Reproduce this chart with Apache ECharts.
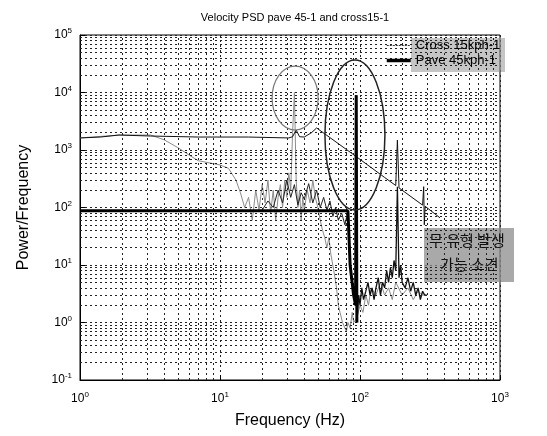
<!DOCTYPE html>
<html><head><meta charset="utf-8">
<script src="https://cdn.jsdelivr.net/npm/echarts/dist/echarts.min.js"></script>
<style>html,body{margin:0;padding:0;background:#fff}#c{width:547px;height:436px}</style>
</head><body><div id="c"></div>
<script>
// ---- tick values ----
const xMajorTicks = [1, 10, 100, 1000];
const yMajorTicks = [0.1, 1, 10, 100, 1000, 10000, 100000];
const xMinorTicks = [2,3,4,5,6,7,8,9,20,30,40,50,60,70,80,90,200,300,400,500,600,700,800,900];
const yMinorTicks = [0.2,0.3,0.4,0.5,0.6,0.7,0.8,0.9,2,3,4,5,6,7,8,9,20,30,40,50,60,70,80,90,
  200,300,400,500,600,700,800,900,2000,3000,4000,5000,6000,7000,8000,9000,
  20000,30000,40000,50000,60000,70000,80000,90000];

// ---- series data (Hz, power/frequency) ----
const crossUpperF = [1, 1.4, 1.9, 3.2, 7, 16, 31, 33, 35, 37, 40, 45, 49, 93, 150, 180, 185, 190, 280, 285, 288, 292, 373];
const crossUpperV = [1620, 1680, 1820, 1750, 1680, 1680, 1620, 1700, 2230, 1700, 1680, 2000, 2415, 782, 333, 241, 1490, 219, 110, 230, 50, 105, 66];

const crossGrayF = [1, 1.9, 3.2, 4, 5, 6.1, 7, 10, 11.5, 13, 14, 15, 16, 17, 18, 19, 20, 21, 22, 23, 24, 25, 26, 27, 28, 29, 30, 31, 32, 33, 34, 35, 36, 37, 38, 39, 40, 42, 44, 46, 48, 50, 52, 54, 56, 58, 60, 62, 65, 68, 70, 72, 75, 78, 80, 82, 85, 88, 90, 95, 100, 105, 110, 115, 120, 130, 140, 150, 160, 170, 180, 200, 220, 240, 260, 280, 300];
const crossGrayV = [1620, 1820, 1820, 1500, 1100, 800, 650, 550, 480, 300, 180, 100, 150, 60, 200, 90, 250, 120, 300, 80, 200, 60, 150, 250, 100, 300, 150, 400, 200, 2000, 10000, 300, 100, 200, 60, 150, 90, 200, 120, 300, 150, 100, 60, 40, 30, 20, 30, 15, 8, 4, 2, 1.5, 1, 0.8, 0.7, 1, 0.8, 1.5, 1, 1.2, 2, 1.5, 3, 2, 4, 3, 5, 3, 4, 2.5, 5, 3, 4, 2.5, 3.5, 3, 3];

const paveF = [1, 2, 5, 10, 20, 40, 60, 82, 85, 90, 93, 94, 95];
const paveV = [88, 88, 88, 88, 88, 88, 88, 88, 10, 3, 2, 9000, 1];

const paveJagF = [20, 22, 24, 26, 28, 30, 32, 34, 36, 38, 40, 43, 46, 49, 52, 55, 58, 61, 64, 67, 70, 74, 78, 82];
const paveJagV = [90, 130, 100, 200, 120, 300, 150, 250, 110, 180, 140, 260, 120, 200, 100, 150, 90, 130, 70, 100, 60, 80, 50, 88];

const paveHighF = [95, 98, 100, 103, 106, 110, 114, 118, 122, 126, 130, 135, 140, 145, 150, 155, 160, 165, 170, 175, 180, 185, 190, 195, 200, 210, 220, 230, 240, 250, 260, 270, 280, 290, 300];
const paveHighV = [1, 3, 2, 4, 2.5, 3.5, 5, 3, 4, 2.5, 4, 6, 3, 5, 4, 8, 5, 9, 6, 12, 8, 230, 6, 10, 5, 4, 6, 3.5, 5, 3, 4, 2.5, 3.5, 3, 3];

// annotation anchors (data coords)
const smallEllipseCenter = [34.4, 8000];
const bigEllipseCenter = [92, 1820];

const zip = (a, b) => a.map((v, i) => [v, b[i]]);
const FONT = 'Liberation Sans, Arial, sans-serif';

const chart = echarts.init(document.getElementById('c'), null, {renderer: 'canvas'});
const labelFmt = v => '{b|10}{s|' + Math.round(Math.log10(v)) + '}';
const labelRich = {
  b: {fontSize: 12, fontFamily: FONT, color: '#000', lineHeight: 16},
  s: {fontSize: 8, fontFamily: FONT, color: '#000', verticalAlign: 'top', lineHeight: 10}
};
const gridDash = {color: '#222', type: [2, 3], width: 1};

const axisCommon = {
  type: 'log', logBase: 10,
  axisLine: {show: true, lineStyle: {color: '#000', width: 1}},
  axisTick: {show: true, inside: true, length: 5, lineStyle: {color: '#000'}},
  splitLine: {show: true, lineStyle: gridDash},
  minorTick: {show: false},
  axisLabel: {formatter: labelFmt, rich: labelRich, color: '#000'},
  nameTextStyle: {fontFamily: FONT, fontSize: 16, color: '#000'}
};

chart.setOption({
  animation: false,
  backgroundColor: '#fff',
  title: {
    text: 'Velocity PSD pave 45-1 and cross15-1',
    left: 290, top: 7, textAlign: 'center',
    textStyle: {fontFamily: FONT, fontSize: 11, fontWeight: 'normal', color: '#000'}
  },
  grid: {left: 80, right: 47, top: 35, bottom: 56, show: true, borderColor: '#000', borderWidth: 1, backgroundColor: 'transparent'},
  legend: {
    data: [
      {name: 'Cross 15kph-1', lineStyle: {width: 1, color: '#333', type: [2, 1]}},
      {name: 'Pave 45kph-1', lineStyle: {width: 3.5, color: '#000'}}
    ],
    orient: 'vertical', left: 385, top: 39, itemGap: 2, itemWidth: 24, itemHeight: 14,
    padding: 0, z: 10,
    itemStyle: {opacity: 0},
    textStyle: {fontFamily: FONT, fontSize: 13, color: '#000'}
  },
  xAxis: Object.assign({}, axisCommon, {
    min: 1, max: 1000, name: 'Frequency (Hz)', nameLocation: 'middle', nameGap: 33,
    axisLabel: Object.assign({}, axisCommon.axisLabel, {margin: 11})
  }),
  yAxis: Object.assign({}, axisCommon, {
    min: 0.1, max: 100000, splitNumber: 6, name: 'Power/Frequency', nameLocation: 'middle', nameGap: 48,
    axisLabel: Object.assign({}, axisCommon.axisLabel, {margin: 8})
  }),
  series: [
    {
      name: 'minor-grid', type: 'line', data: [], z: 1, silent: true,
      markLine: {
        silent: true, symbol: 'none', label: {show: false}, animation: false,
        lineStyle: gridDash,
        data: xMinorTicks.map(v => ({xAxis: v})).concat(yMinorTicks.map(v => ({yAxis: v})))
      }
    },
    {
      name: 'gray', type: 'line', data: zip(crossGrayF, crossGrayV), symbol: 'none', z: 3,
      lineStyle: {color: '#8c8c8c', width: 1}, itemStyle: {color: '#8c8c8c'}
    },
    {
      name: 'Cross 15kph-1', type: 'line', data: zip(crossUpperF, crossUpperV), symbol: 'none', z: 4,
      lineStyle: {color: '#111', width: 1}, itemStyle: {color: '#111'}
    },
    {
      name: 'jag', type: 'line', data: zip(paveJagF, paveJagV), symbol: 'none', z: 4,
      lineStyle: {color: '#222', width: 1}, itemStyle: {color: '#222'}
    },
    {
      name: 'high', type: 'line', data: zip(paveHighF, paveHighV), symbol: 'none', z: 4,
      lineStyle: {color: '#111', width: 1.3}, itemStyle: {color: '#111'}
    },
    {
      name: 'Pave 45kph-1', type: 'line', data: zip(paveF, paveV), symbol: 'none', z: 5,
      lineStyle: {color: '#000', width: 3}, itemStyle: {color: '#000'}
    }
  ]
});

const p1 = chart.convertToPixel({xAxisIndex: 0, yAxisIndex: 0}, smallEllipseCenter);
const p2 = chart.convertToPixel({xAxisIndex: 0, yAxisIndex: 0}, bigEllipseCenter);
chart.setOption({
  graphic: [
    {type: 'rect', left: 411, top: 38, z: 2, shape: {width: 94, height: 34}, style: {fill: 'rgba(150,150,150,0.55)'}},
    {type: 'ellipse', shape: {cx: p1[0], cy: p1[1], rx: 23, ry: 32}, style: {fill: 'none', stroke: '#777', lineWidth: 1.2}, z: 100},
    {type: 'ellipse', shape: {cx: p2[0], cy: p2[1], rx: 30, ry: 75}, style: {fill: 'none', stroke: '#222', lineWidth: 1.5}, z: 100},
    {type: 'group', left: 424, top: 228, z: 100, children: [
      {type: 'rect', shape: {width: 90, height: 54}, style: {fill: 'rgba(140,140,140,0.75)'}},
      {type: 'text', left: 5, top: 5, style: {text: '무 유형 발생', font: '15px "Noto Sans CJK KR"', fill: '#111'}},
      {type: 'text', left: 16, top: 29, style: {text: '가능 소견', font: '15px "Noto Sans CJK KR"', fill: '#111'}}
    ]}
  ]
});
</script></body></html>
